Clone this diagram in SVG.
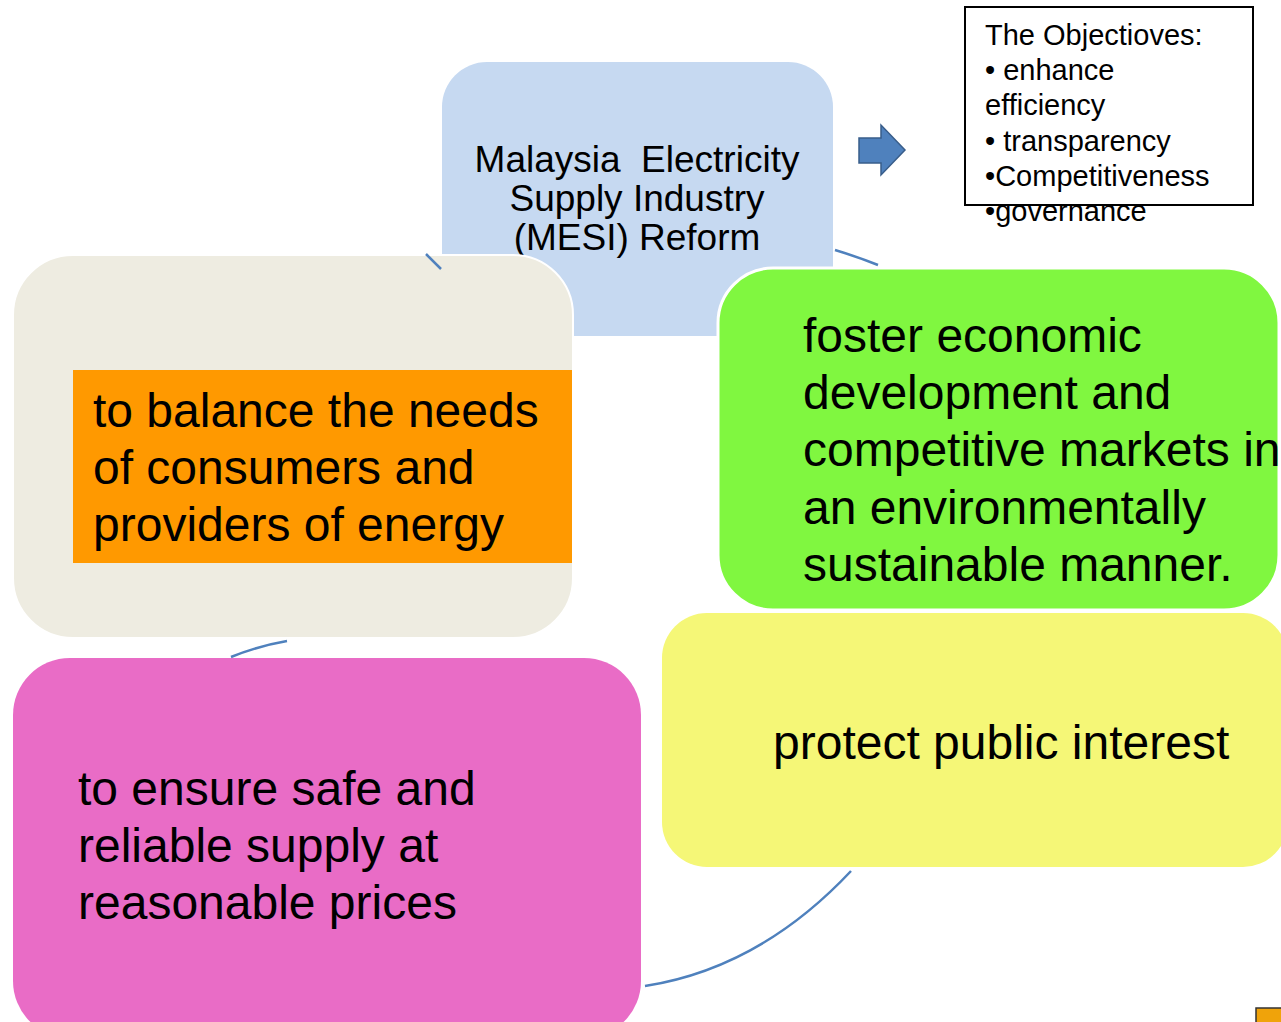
<svg xmlns="http://www.w3.org/2000/svg" width="1281" height="1022" viewBox="0 0 1281 1022">
<style>
text{font-family:"Liberation Sans",Arial,sans-serif;fill:#000}
.big{font-size:48px}
.mid{font-size:37px}
.obj{font-size:29px}
.conn{fill:none;stroke:#4f81bd;stroke-width:2.5}
</style>
<rect width="1281" height="1022" fill="#fff"/>
<g id="node-mesi">
<rect x="442" y="62" width="391" height="274" rx="45" fill="#c6d9f1"/>
<text class="mid" text-anchor="middle" x="637" y="172">Malaysia &#160;Electricity</text>
<text class="mid" text-anchor="middle" x="637" y="211">Supply Industry</text>
<text class="mid" text-anchor="middle" x="637" y="250">(MESI) Reform</text>
</g>
<g id="node-balance">
<rect x="13" y="255" width="560" height="383" rx="60" fill="#eeece1" stroke="#fff" stroke-width="2"/>
<rect x="73" y="370" width="499" height="193" fill="#ff9900"/>
<text class="big" x="93" y="427">to balance the needs</text>
<text class="big" x="93" y="484">of consumers and</text>
<text class="big" x="93" y="541">providers of energy</text>
</g>
<g id="node-foster">
<rect x="718" y="268" width="561" height="342" rx="55" fill="#80f740" stroke="#fff" stroke-width="3"/>
<text class="big" x="803" y="352">foster economic</text>
<text class="big" x="803" y="409">development and</text>
<text class="big" x="803" y="466">competitive markets in</text>
<text class="big" x="803" y="524">an environmentally</text>
<text class="big" x="803" y="581">sustainable manner.</text>
</g>
<g id="node-protect">
<rect x="662" y="613" width="626" height="254" rx="45" fill="#f5f777"/>
<text class="big" x="773" y="759">protect public interest</text>
</g>
<g id="node-ensure">
<rect x="13" y="658" width="628" height="380" rx="57" fill="#e96cc6"/>
<text class="big" x="78" y="805">to ensure safe and</text>
<text class="big" x="78" y="862">reliable supply at</text>
<text class="big" x="78" y="919">reasonable prices</text>
</g>
<g id="connectors">
<path class="conn" d="M426,254 L441,269"/>
<path class="conn" d="M835,250 Q858,257 878,265"/>
<path class="conn" d="M231,657 Q258,646 287,641"/>
<path class="conn" d="M851,871 Q760,968 645,986"/>
</g>
<g id="arrow">
<path d="M859,138 L881,138 L881,125 L905,150 L881,175 L881,163 L859,163 Z" fill="#4f81bd" stroke="#385d8a" stroke-width="1.5"/>
</g>
<g id="node-objectives">
<rect x="965" y="7" width="288" height="198" fill="#fff" stroke="#000" stroke-width="2"/>
<text class="obj" x="985" y="45">The Objectioves:</text>
<text class="obj" x="985" y="80">• enhance</text>
<text class="obj" x="985" y="115">efficiency</text>
<text class="obj" x="985" y="151">• transparency</text>
<text class="obj" x="985" y="186">•Competitiveness</text>
<text class="obj" x="985" y="221">•governance</text>
</g>
<g id="corner-mark">
<rect x="1256" y="1008" width="30" height="20" fill="#f0a30a" stroke="#333" stroke-width="1.5"/>
</g>
</svg>
